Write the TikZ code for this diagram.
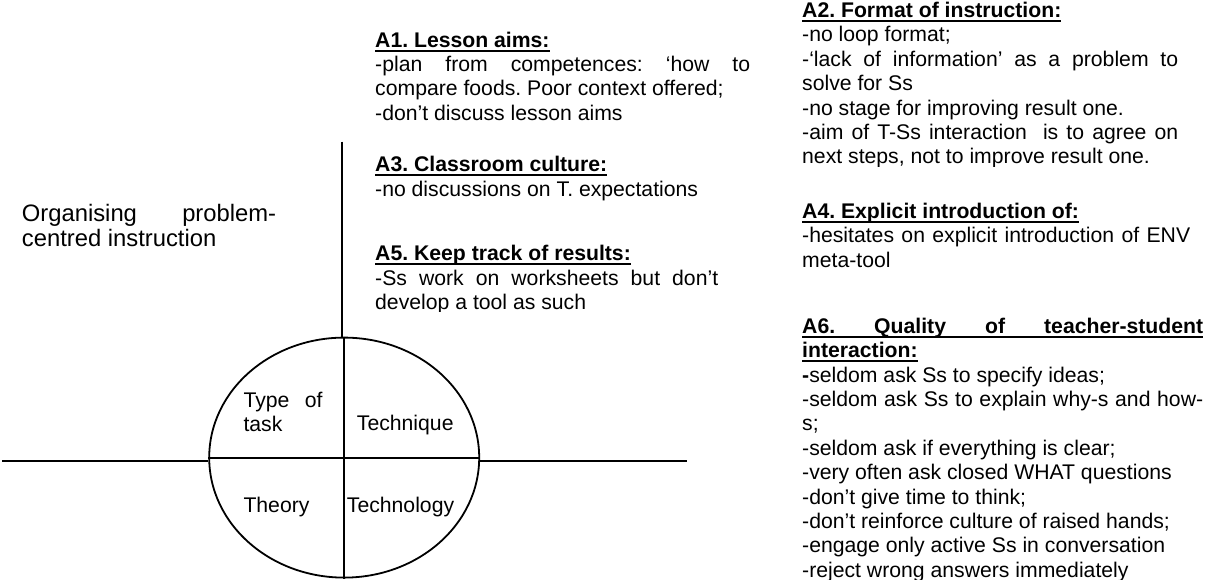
\documentclass[tikz,border=0pt]{standalone}
\usepackage{fontspec}
\setmainfont{Liberation Sans}
\usetikzlibrary{shapes.geometric}
\newcommand\normsp{\spaceskip=0pt\relax\xspaceskip=0pt\relax\frenchspacing}
\newcommand\jline[1]{\leavevmode\makebox[\linewidth][s]{\normsp #1}}
\newcommand\myul[1]{\leavevmode\setbox0=\hbox{\normsp #1}\rlap{\rule[-4.5pt]{\wd0}{2pt}}\box0}
\tikzset{
  txt/.style={anchor=base west, inner sep=0pt, align=left,
    font=\fontsize{21.2pt}{24.4pt}\selectfont, execute at begin node={\normsp}},
  bigtxt/.style={anchor=base west, inner sep=0pt, align=left,
    font=\fontsize{23.8pt}{24.6pt}\selectfont, execute at begin node={\normsp}},
  ln/.style={line width=1.8pt, black}
}
\begin{document}
\begin{tikzpicture}[x=1pt, y=-1pt]
\useasboundingbox (0,0) rectangle (1207,582);

% ellipse and axes
\node[draw, ellipse, ln, minimum width=270pt, minimum height=240pt, inner sep=0pt] (E) at (344.2,457.6) {};
\draw[ln] (E.west) -- (E.east);
\draw[ln] (E.north) -- (E.south);
\coordinate (hl) at (2,461);
\coordinate (hr) at (687,461);
\coordinate (vt) at (341.7,141.7);
\draw[ln] (hl) -- (hl -| E.west);
\draw[ln] (hr -| E.east) -- (hr);
\draw[ln] (vt) -- (vt |- E.north);

% quadrant labels
\node[txt, text width=79pt] (tt) at (243.3,407) {\jline{Type of}\\task};
\node[txt] (tq) at (356.7,430) {Technique};
\node[txt] (th) at (243.3,512) {Theory};
\node[txt] (tg) at (346.7,512) {Technology};

% left title
\node[bigtxt, text width=254.3pt] (org) at (21.7,221.7) {\jline{Organising problem-}\\centred instruction};

% middle column
\node[txt, text width=375pt] (a1) at (375,47) {\myul{\bfseries A1. Lesson aims:}\\
\jline{-plan from competences: ‘how to}\\
compare foods. Poor context offered;\\
-don’t discuss lesson aims};
\node[txt, text width=343pt] (a3) at (375,171.7) {\myul{\bfseries A3. Classroom culture:}\\
-no discussions on T. expectations};
\begin{scope}
\clip (360,230) rectangle (760,311);
\node[txt, text width=343pt] (a5) at (375,260.7) {\myul{\bfseries A5. Keep track of results:}\\
\jline{-Ss work on worksheets but don’t}\\
develop a tool as such};
\end{scope}

% right column
\begin{scope}
\clip (790,0) rectangle (1207,166);
\node[txt, text width=376pt] (a2) at (802,17.5) {\myul{\bfseries A2. Format of instruction:}\\
-no loop format;\\
\jline{-‘lack of information’ as a problem to}\\
solve for Ss\\
-no stage for improving result one.\\
\jline{-aim of T-Ss interaction\ \ is to agree on}\\
next steps, not to improve result one.};
\end{scope}
\node[txt, text width=388pt] (a4) at (802,218.3) {\myul{\bfseries A4. Explicit introduction of:}\\
\jline{-hesitates on explicit introduction of ENV}\\
meta-tool};
\begin{scope}
\clip (790,300) rectangle (1207,579.5);
\node[txt, text width=401pt] (a6) at (802,333.3) {\myul{\jline{\bfseries A6. Quality of teacher-student}}\\
\myul{\bfseries interaction:}\\
\textbf{-}seldom ask Ss to specify ideas;\\
\jline{-seldom ask Ss to explain why-s and how-}\\
s;\\
-seldom ask if everything is clear;\\
-very often ask closed WHAT questions\\
-don’t give time to think;\\
-don’t reinforce culture of raised hands;\\
-engage only active Ss in conversation\\
-reject wrong answers immediately};
\end{scope}
\end{tikzpicture}
\end{document}
